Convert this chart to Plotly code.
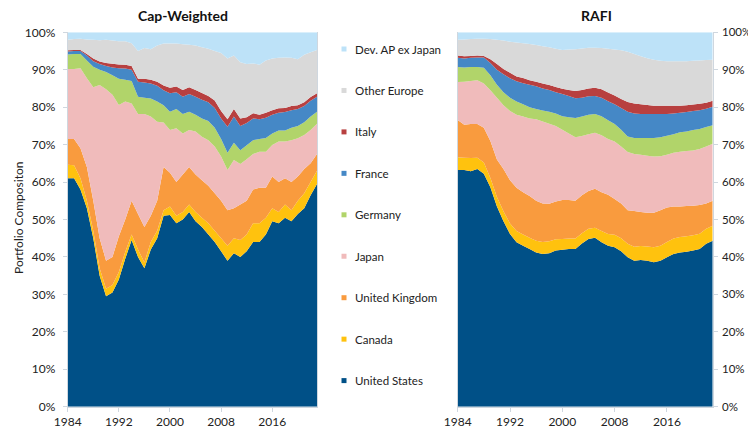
import plotly.graph_objects as go

years = list(range(1984, 2024))
countries = ["United States", "Canada", "United Kingdom", "Japan", "Germany",
             "France", "Italy", "Other Europe", "Dev. AP ex Japan"]
colors = ["#005087", "#FFC20E", "#F99B3E", "#F0BBBB", "#B1D46A",
          "#4588C6", "#B84040", "#D9D9D9", "#BDE2F8"]

# Cap-Weighted shares (%)
cw_us = [61, 61, 58, 53, 45, 35, 29.5, 30.5, 34, 39.5, 44.5, 40, 37, 42, 45, 51, 51.2, 49, 50, 52,
         49.5, 48, 46, 44, 41.5, 39, 41, 40, 41.5, 44, 44, 46, 49.5, 49, 50.5, 49.5, 51.5, 53, 56.5, 59.5]
cw_ca = [3.6, 3.5, 3.0, 2.0, 2.0, 2.0, 2.0, 2.0, 2.0, 1.8, 1.5, 2.0, 1.5, 2.0, 2.0, 1.5, 2.3, 2.0, 2.0, 2.0,
         2.5, 2.5, 3.0, 3.0, 3.5, 4.0, 4.0, 4.5, 4.5, 5.0, 5.0, 4.5, 3.5, 3.0, 3.5, 3.0, 3.5, 4.0, 3.5, 3.5]
cw_uk = [6.9, 7.0, 8.0, 9.0, 8.0, 8.0, 7.5, 7.5, 9.5, 8.7, 9.0, 9.5, 9.5, 7.0, 8.0, 11.5, 9.0, 9.0, 10.0, 10.0,
         10.0, 10.0, 10.0, 10.0, 10.0, 9.5, 8.0, 9.5, 9.0, 9.0, 9.5, 8.0, 8.5, 8.0, 7.0, 7.5, 6.5, 6.5, 5.0, 4.5]
cw_jp = [18.7, 18.7, 21.4, 23.7, 30.3, 40.9, 45.8, 43.3, 35.1, 31.5, 26.0, 26.7, 30.2, 26.5, 21.1, 11.9, 11.4, 14.4, 11.0, 9.9,
         11.5, 11.6, 12.2, 12.5, 11.8, 10.7, 12.9, 10.8, 11.1, 9.5, 9.6, 9.6, 8.4, 10.8, 9.8, 11.2, 10.2, 9.1, 8.9, 8.1]
cw_de = [3.9, 4.0, 3.8, 4.8, 5.5, 4.1, 4.6, 5.2, 7.0, 5.8, 6.0, 4.6, 4.3, 4.8, 5.4, 4.6, 4.9, 5.1, 5.2, 4.9,
         4.5, 4.9, 5.1, 5.0, 4.7, 4.6, 4.6, 3.7, 3.7, 3.7, 3.4, 3.7, 3.1, 3.0, 3.0, 3.3, 3.3, 3.4, 3.6, 3.2]
cw_fr = [0.8, 0.8, 0.8, 1.3, 1.5, 1.5, 1.6, 2.1, 2.8, 3.0, 3.0, 4.0, 4.1, 4.0, 4.2, 4.0, 4.9, 4.5, 4.6, 4.7,
         4.8, 5.0, 5.0, 5.3, 5.5, 7.0, 7.0, 6.5, 6.0, 5.8, 5.3, 5.4, 5.0, 4.7, 4.9, 4.7, 4.5, 4.3, 4.2, 4.0]
cw_it = [0.3, 0.3, 0.3, 0.4, 0.7, 0.7, 0.8, 1.0, 1.0, 1.0, 1.0, 0.8, 1.0, 1.0, 1.1, 1.3, 1.5, 1.5, 1.8, 1.8,
         1.8, 1.8, 1.7, 2.0, 2.0, 2.0, 2.0, 2.0, 1.5, 1.4, 1.2, 1.3, 1.2, 1.2, 1.1, 1.1, 1.0, 1.0, 1.0, 0.9]
cw_oe = [2.8, 2.9, 3.0, 3.9, 5.0, 5.7, 6.2, 6.2, 6.2, 6.3, 6.1, 7.4, 8.2, 8.2, 9.7, 11.2, 11.8, 11.5, 12.2, 11.4,
         11.9, 12.2, 12.6, 13.2, 15.5, 16.2, 14.3, 15.0, 14.2, 13.3, 13.3, 14.0, 13.8, 13.5, 13.5, 12.9, 12.3, 12.7, 12.0, 11.6]
cw_ap = [2.0, 1.8, 1.7, 1.9, 2.0, 2.1, 2.0, 2.2, 2.4, 2.4, 2.9, 5.0, 4.2, 4.5, 3.5, 3.0, 3.0, 3.0, 3.2, 3.3,
         3.5, 4.0, 4.4, 5.0, 5.5, 7.0, 6.2, 8.0, 8.5, 8.3, 8.7, 7.5, 7.0, 6.8, 6.7, 6.8, 7.2, 6.0, 5.3, 4.7]

# RAFI shares (%)
rf_us = [63.2, 63.2, 62.9, 63.5, 62.2, 58.6, 53.5, 49.5, 46.1, 43.9, 43.0, 42.1, 41.2, 40.8, 41.0, 41.7, 41.9, 42.1, 42.1, 43.6,
         44.8, 45.1, 43.9, 43.0, 42.6, 41.5, 39.9, 39.0, 39.2, 39.0, 38.6, 39.0, 39.9, 40.8, 41.2, 41.4, 41.7, 42.1, 43.5, 44.3]
rf_ca = [3.4, 3.3, 3.5, 3.0, 3.0, 2.5, 2.5, 2.7, 2.8, 3.0, 3.0, 3.0, 3.1, 3.2, 3.2, 3.0, 2.9, 2.8, 2.8, 2.7,
         2.7, 2.7, 3.0, 3.1, 3.3, 3.5, 3.6, 3.7, 3.7, 3.8, 4.0, 4.0, 4.1, 4.1, 4.1, 4.1, 4.1, 4.1, 4.0, 4.0]
rf_uk = [10.0, 8.8, 9.1, 9.0, 9.3, 9.9, 10.0, 11.3, 11.6, 11.6, 11.3, 11.2, 10.7, 10.3, 10.0, 10.1, 10.4, 10.3, 10.1, 10.2,
         10.1, 10.4, 10.4, 10.5, 9.6, 9.3, 9.0, 9.6, 9.1, 9.0, 9.2, 9.5, 9.2, 8.6, 8.2, 8.1, 7.9, 7.7, 6.8, 6.7]
rf_jp = [10.1, 11.5, 11.5, 11.7, 11.8, 13.5, 16.5, 17.0, 18.5, 19.5, 20.2, 20.7, 21.8, 21.9, 21.4, 20.2, 18.8, 17.8, 17.0, 15.8,
         15.2, 15.0, 15.2, 14.9, 15.3, 15.2, 15.5, 15.2, 15.3, 15.2, 15.0, 14.4, 14.1, 14.3, 14.6, 14.7, 14.7, 14.9, 15.2, 15.2]
rf_de = [4.0, 3.8, 3.7, 3.5, 4.2, 4.0, 3.5, 3.5, 3.5, 3.5, 3.3, 3.0, 2.7, 2.9, 3.2, 3.3, 3.6, 4.3, 5.1, 5.2,
         5.2, 5.0, 5.1, 5.0, 4.7, 4.5, 4.2, 4.3, 4.5, 4.8, 5.0, 5.1, 5.1, 5.0, 5.2, 5.2, 5.5, 5.4, 5.2, 5.0]
rf_fr = [2.5, 2.4, 2.5, 2.6, 2.8, 3.3, 4.0, 4.8, 5.2, 5.4, 5.6, 6.0, 6.1, 5.9, 5.8, 5.7, 5.9, 5.7, 5.3, 5.0,
         4.9, 4.8, 4.9, 5.1, 5.3, 5.8, 6.6, 6.5, 6.4, 6.4, 6.4, 6.2, 5.8, 5.5, 5.2, 5.2, 5.1, 5.0, 4.9, 4.9]
rf_it = [0.6, 0.6, 0.5, 0.5, 0.4, 1.0, 1.5, 1.4, 1.5, 1.3, 1.4, 1.2, 1.2, 1.3, 1.3, 1.4, 1.4, 1.6, 1.9, 2.1,
         2.1, 2.2, 2.3, 2.3, 2.3, 2.4, 2.6, 2.7, 2.6, 2.4, 2.2, 2.2, 2.2, 2.1, 1.9, 1.8, 1.7, 1.7, 1.6, 1.6]
rf_oe = [4.2, 4.5, 4.5, 4.5, 4.6, 5.4, 6.5, 7.6, 8.3, 9.1, 9.3, 9.7, 9.8, 10.0, 10.1, 10.2, 10.4, 10.8, 11.2, 11.1,
         10.9, 10.7, 11.0, 11.7, 12.3, 13.0, 13.4, 13.2, 12.8, 12.5, 12.3, 12.0, 11.9, 11.9, 11.9, 11.8, 11.7, 11.6, 11.4, 11.0]
rf_ap = [2.0, 1.9, 1.8, 1.7, 1.7, 1.8, 2.0, 2.2, 2.5, 2.7, 2.9, 3.1, 3.4, 3.7, 4.0, 4.4, 4.7, 4.6, 4.5, 4.3,
         4.1, 4.1, 4.2, 4.4, 4.6, 4.8, 5.2, 5.8, 6.4, 6.9, 7.3, 7.6, 7.7, 7.7, 7.7, 7.7, 7.6, 7.5, 7.4, 7.3]

x_ticks = [1984, 1992, 2000, 2008, 2016]
y_ticks = list(range(0, 101, 10))
y_ticktext = [f"{v}%" for v in y_ticks]
panel_titles = ["Cap-Weighted", "RAFI"]
y_title = "Portfolio Compositon"

cw = [cw_us, cw_ca, cw_uk, cw_jp, cw_de, cw_fr, cw_it, cw_oe, cw_ap]
rf = [rf_us, rf_ca, rf_uk, rf_jp, rf_de, rf_fr, rf_it, rf_oe, rf_ap]

W, H = 748, 429
FONT = "Lato, 'Open Sans', sans-serif"
AX = "#CFD7DF"

fig = go.Figure()
for name, col, vals in zip(countries, colors, cw):
    fig.add_trace(go.Scatter(x=years, y=vals, name=name, mode="none", fillcolor=col,
                             stackgroup="cw", groupnorm="percent", showlegend=False,
                             hoverinfo="skip", xaxis="x", yaxis="y"))
for name, col, vals in zip(countries, colors, rf):
    fig.add_trace(go.Scatter(x=years, y=vals, name=name, mode="none", fillcolor=col,
                             stackgroup="rf", groupnorm="percent", showlegend=False,
                             hoverinfo="skip", xaxis="x2", yaxis="y2"))

def px_x(p):
    return p / W

def px_y(p):
    return 1 - p / H

ydom = [px_y(406.7), px_y(32.3)]
xcommon = dict(range=[1984, 2023], tickmode="array", tickvals=x_ticks,
               ticktext=[str(t) for t in x_ticks], ticks="outside", ticklen=4,
               tickcolor=AX, showline=True, linecolor=AX, linewidth=1, showgrid=False,
               zeroline=False, automargin=False,
               tickfont=dict(family=FONT, size=12, color="#222"))
ycommon = dict(range=[0, 100], tickmode="array", tickvals=y_ticks, ticktext=y_ticktext,
               ticks="outside", ticklen=4,
               tickcolor=AX, showline=True, linecolor=AX, linewidth=1, mirror=True,
               showgrid=False, zeroline=False, domain=ydom, automargin=False)

fig.update_layout(
    width=W, height=H, margin=dict(l=0, r=0, t=0, b=0, pad=0, autoexpand=False),
    paper_bgcolor="white", plot_bgcolor="white",
    xaxis=dict(domain=[px_x(67.7), px_x(317)], anchor="y", **xcommon),
    xaxis2=dict(domain=[px_x(457.7), px_x(712.7)], anchor="y2", **xcommon),
    yaxis=dict(anchor="x", side="left", ticklabelstandoff=5,
               tickfont=dict(family=FONT, size=12, color="#222"), **ycommon),
    yaxis2=dict(anchor="x2", side="right", ticklabelstandoff=2,
                tickfont=dict(family=FONT, size=11.5, color="#222"), **ycommon),
    showlegend=False,
)

ann = []
ann.append(dict(text="<b>" + panel_titles[0] + "</b>", x=px_x(183), y=px_y(16), xref="paper", yref="paper",
                xanchor="center", yanchor="middle",
                showarrow=False, font=dict(family=FONT, size=14, color="#111")))
ann.append(dict(text="<b>" + panel_titles[1] + "</b>", x=px_x(596), y=px_y(15), xref="paper", yref="paper",
                xanchor="center", yanchor="middle",
                showarrow=False, font=dict(family=FONT, size=14, color="#111")))
ann.append(dict(text=y_title, x=px_x(18), y=px_y(218), xref="paper", yref="paper", textangle=-90,
                xanchor="center", yanchor="middle",
                showarrow=False, font=dict(family=FONT, size=12, color="#222")))

shapes = []
leg_top, leg_step = 49, 41.45
for i, (name, col) in enumerate(zip(countries[::-1], colors[::-1])):
    cy = leg_top + i * leg_step
    shapes.append(dict(type="rect", xref="paper", yref="paper",
                       x0=px_x(341.5), x1=px_x(346.5), y0=px_y(cy + 2.5), y1=px_y(cy - 2.5),
                       fillcolor=col, line=dict(width=0)))
    ann.append(dict(text=name, x=px_x(353), y=px_y(cy), xref="paper", yref="paper",
                    xanchor="left", yanchor="middle", showarrow=False,
                    font=dict(family=FONT, size=11.5, color="#222")))

fig.update_layout(annotations=ann, shapes=shapes)
fig.write_html("out.html", config={"displayModeBar": False},
               post_script="document.body.style.margin='0';document.body.style.padding='0';")
